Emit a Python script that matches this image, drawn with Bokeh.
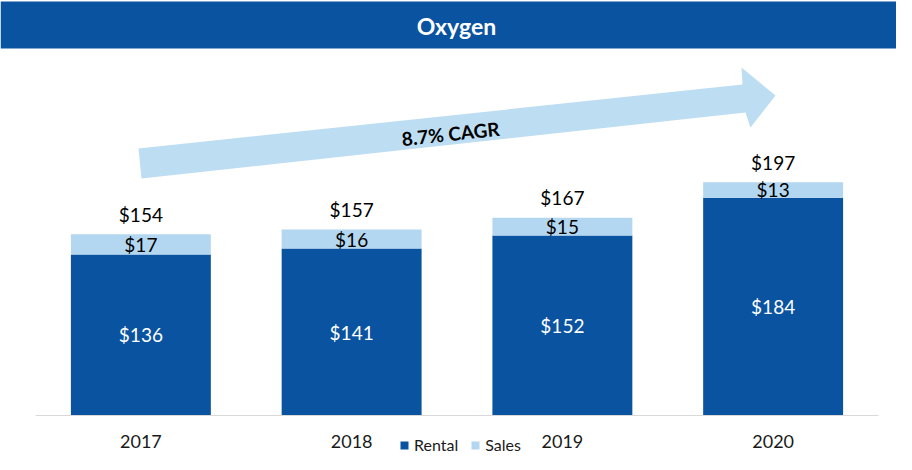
import numpy as np
from bokeh.plotting import figure
from bokeh.models import (Range1d, ColumnDataSource, BoxAnnotation,
                          Label, Legend, LegendItem)
from bokeh.core.properties import value
from bokeh.embed import file_html
from bokeh.resources import INLINE

# ---- data ----
years = ["2017", "2018", "2019", "2020"]
rental = [136, 141, 152, 184]
sales = [17, 16, 15, 13]
totals = [154, 157, 167, 197]
title_text = "Oxygen"
cagr_text = "8.7% CAGR"
series_names = ["Rental", "Sales"]

DARK = "#0A53A0"
LIGHT = "#B4D7F1"
ARROW = "#BDDDF2"
FONT = "Lato"

# page-pixel -> plot coordinate helpers (for decorations only)
CAT_W = 210.75      # px per category
X0 = 35.0           # px of first category's left edge
BASE = 415.0        # px of value 0
PPU = 1.184         # px per value unit
W, H = 896, 454

def sx(px):
    return (px - X0) / CAT_W

def sy(py):
    return (BASE - py) / PPU

p = figure(width=W, height=H,
           x_range=Range1d(sx(0), sx(W)), y_range=Range1d(sy(H), sy(0)),
           output_backend="svg", toolbar_location=None,
           min_border_left=0, min_border_right=0, min_border_top=0, min_border_bottom=0,
           x_axis_location=None, y_axis_location=None)
p.xgrid.grid_line_color = None
p.ygrid.grid_line_color = None
p.outline_line_color = None
p.background_fill_color = "white"
p.border_fill_color = "white"

# title band
p.add_layout(BoxAnnotation(top=sy(1), bottom=sy(48), fill_color=DARK, fill_alpha=1.0, line_color=None))
p.add_layout(Label(x=sx(456), y=sy(25), text=title_text, text_align="center", text_baseline="middle",
                   text_color="white", text_font=FONT, text_font_style="bold", text_font_size="23px"))

# growth arrow
arrow_px = [(141, 178), (745, 112), (750, 127), (775, 95), (741, 67), (742, 84), (138, 148)]
p.patch(x=[sx(a) for a, b in arrow_px], y=[sy(b) for a, b in arrow_px],
        fill_color=ARROW, line_color=None)
p.add_layout(Label(x=sx(450), y=sy(133), text=cagr_text, angle=0.107, text_align="center",
                   text_baseline="middle", text_color="black", text_font=FONT,
                   text_font_style="bold", text_font_size="19px"))

# bars (categories placed at index + 0.5)
xpos = np.arange(len(years)) + 0.5
r = np.array(rental, dtype=float)
s = np.array(sales, dtype=float)
src = ColumnDataSource(dict(
    x=xpos, year=years, rental=rental, sales=sales,
    rental_lbl=["$%d" % v for v in rental], sales_lbl=["$%d" % v for v in sales],
    total_lbl=["$%d" % v for v in totals],
    rental_mid=r / 2, sales_mid=r + s / 2, total_pos=r + s + 17,
    year_pos=np.full(len(years), sy(441)),
))
rs = p.vbar_stack(["rental", "sales"], x="x", width=0.664, color=[DARK, LIGHT],
                  line_color=None, source=src)

# baseline
p.segment(x0=[0], y0=[0], x1=[len(years)], y1=[0], line_color="#D9D9D9", line_width=1)

p.text(x="x", y="rental_mid", text="rental_lbl", source=src, text_align="center",
       text_baseline="middle", text_color="white", text_font=value(FONT), text_font_size="19px")
p.text(x="x", y="sales_mid", text="sales_lbl", source=src, text_align="center",
       text_baseline="middle", text_color="black", text_font=value(FONT), text_font_size="19px")
p.text(x="x", y="total_pos", text="total_lbl", source=src, text_align="center",
       text_baseline="middle", text_color="black", text_font=value(FONT), text_font_size="19px")
# category labels
p.text(x="x", y="year_pos", text="year", source=src, text_align="center",
       text_baseline="middle", text_color="#1a1a1a", text_font=value(FONT), text_font_size="18px")

# legend
legend = Legend(items=[LegendItem(label=series_names[0], renderers=[rs[0]]),
                       LegendItem(label=series_names[1], renderers=[rs[1]])],
                location=(399, 0), orientation="horizontal",
                background_fill_alpha=0, border_line_color=None,
                padding=0, margin=0, spacing=12, glyph_width=10, glyph_height=10,
                label_standoff=5, label_height=16,
                label_text_font=FONT, label_text_font_size="16px", label_text_color="#1a1a1a")
p.add_layout(legend)

open("out.html", "w").write(file_html(p, INLINE))
